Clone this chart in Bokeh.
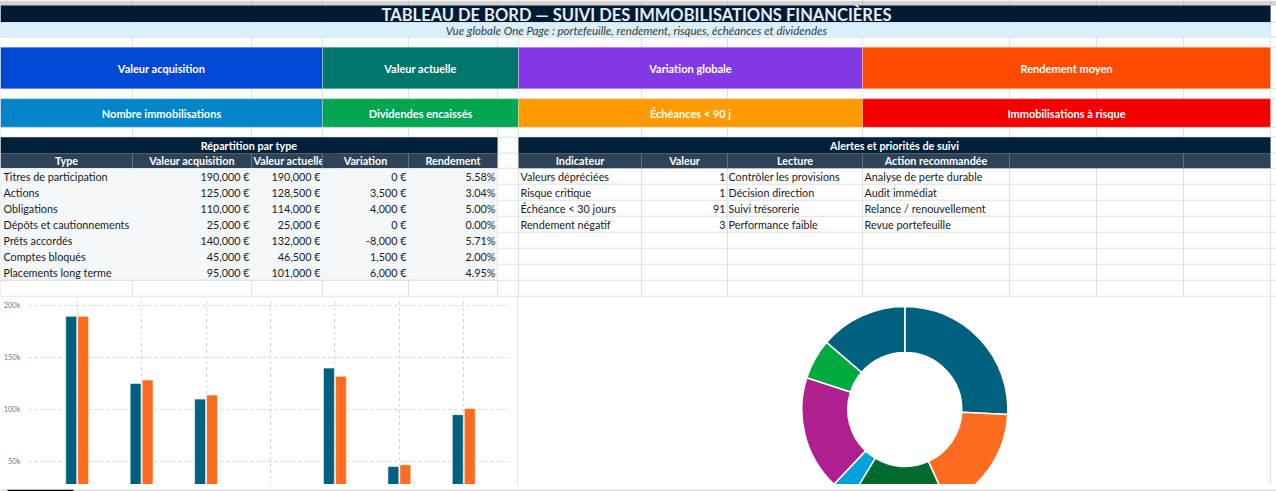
import numpy as np
from bokeh.plotting import figure
from bokeh.models import ColumnDataSource, Range1d, FixedTicker, NumeralTickFormatter, Span
from bokeh.layouts import column, row
from bokeh.core.properties import value
from bokeh.transform import dodge
from bokeh.embed import file_html
from bokeh.resources import INLINE

# ---- data -------------------------------------------------------------
TITLE = "TABLEAU DE BORD — SUIVI DES IMMOBILISATIONS FINANCIÈRES"
SUBTITLE = "Vue globale One Page : portefeuille, rendement, risques, échéances et dividendes"

kpi_row1 = ["Valeur acquisition", "Valeur actuelle", "Variation globale", "Rendement moyen"]
kpi_row2 = ["Nombre immobilisations", "Dividendes encaissés", "Échéances < 90 j", "Immobilisations à risque"]
kpi_colors1 = ["#0049d6", "#00766c", "#8338e6", "#ff4b00"]
kpi_colors2 = ["#0086c8", "#00a651", "#ff9a00", "#f50000"]

type_headers = ["Type", "Valeur acquisition", "Valeur actuelle", "Variation", "Rendement"]
types = ["Titres de participation", "Actions", "Obligations", "Dépôts et cautionnements",
         "Prêts accordés", "Comptes bloqués", "Placements long terme"]
valeur_acquisition = [190000, 125000, 110000, 25000, 140000, 45000, 95000]
valeur_actuelle = [190000, 128500, 114000, 25000, 132000, 46500, 101000]
variation = [0, 3500, 4000, 0, -8000, 1500, 6000]
rendement = [5.58, 3.04, 5.00, 0.00, 5.71, 2.00, 4.95]

alert_headers = ["Indicateur", "Valeur", "Lecture", "Action recommandée"]
alert_indicateurs = ["Valeurs dépréciées", "Risque critique", "Échéance < 30 jours", "Rendement négatif"]
alert_valeurs = [1, 1, 91, 3]
alert_lecture = ["Contrôler les provisions", "Décision direction", "Suivi trésorerie", "Performance faible"]
alert_actions = ["Analyse de perte durable", "Audit immédiat", "Relance / renouvellement", "Revue portefeuille"]

bar_ticks = [50000, 100000, 150000, 200000]
bar_colors = ["#00617f", "#ff6b1f"]
donut_colors = ["#00617f", "#ff6b1f", "#006b2d", "#00a3d9", "#b01f8e", "#00aa3c"]

# ---- sheet geometry (pixels) ------------------------------------------
W, H = 1276, 491
CHART_TOP, SHEET_BOTTOM = 297, 484
COLS = [0, 132, 251, 322, 408, 497, 518, 641, 727, 862, 1009, 1096, 1183, 1270]
ROWS = [5, 21.7, 36.7, 46.7, 88.3, 98.3, 126.7, 136.7, 152.7] + [167.7 + 16 * i for i in range(9)]
FONT = value("Lato")


def put_text(p, xs, ys, texts, size="10px", align="left", style="normal", color="#1a1a1a"):
    src = ColumnDataSource(dict(x=xs, y=ys, t=texts))
    p.text("x", "y", text="t", source=src, text_font=FONT, text_font_size=size,
           text_align=align, text_baseline="middle", text_font_style=style, text_color=color)


top = figure(width=W, height=CHART_TOP, x_range=Range1d(0, W), y_range=Range1d(CHART_TOP, 0),
             x_axis_location=None, y_axis_location=None, toolbar_location=None,
             output_backend="svg", min_border=0, outline_line_color=None)
top.grid.visible = False

# grid of the sheet
top.segment(COLS, [0] * len(COLS), COLS, [CHART_TOP] * len(COLS), line_color="#e0e0e0", line_width=1)
top.segment([0] * len(ROWS), ROWS, [W] * len(ROWS), ROWS, line_color="#e0e0e0", line_width=1)
top.quad(left=0, right=W, top=0, bottom=5, fill_color="#d4d4d4", line_color=None)
top.segment(COLS, [0] * len(COLS), COLS, [5] * len(COLS), line_color="#bcbcbc")

# title and subtitle bands
top.quad(left=0, right=1270, top=5, bottom=21.7, fill_color="#011b33", line_color=None)
top.quad(left=0, right=1270, top=21.7, bottom=36.7, fill_color="#d9f0fb", line_color=None)
put_text(top, [636], [14], [TITLE], size="16.5px", align="center", style="bold", color="#e6ecf2")
put_text(top, [636], [29.5], [SUBTITLE], size="11.5px", align="center", style="italic", color="#3a3a3a")

# KPI cards
k_left = [0, 322, 518, 862]
k_right = [322, 518, 862, 1270]
k_mid = [(a + b) / 2 for a, b in zip(k_left, k_right)]
top.quad(left=k_left, right=k_right, top=46.7, bottom=88.3, fill_color=kpi_colors1,
         line_color="white", line_alpha=0.5, line_width=0.6)
top.quad(left=k_left, right=k_right, top=98.3, bottom=126.7, fill_color=kpi_colors2,
         line_color="white", line_alpha=0.5, line_width=0.6)
put_text(top, k_mid, [68] * 4, kpi_row1, size="11px", align="center", style="bold", color="white")
put_text(top, k_mid, [113] * 4, kpi_row2, size="11px", align="center", style="bold", color="white")

# section headers
top.quad(left=[0, 518], right=[497, 1270], top=136.7, bottom=152.7, fill_color="#01203a", line_color=None)
top.quad(left=[0, 518], right=[497, 1270], top=152.7, bottom=167.7, fill_color="#2f4358", line_color=None)
seps = [132, 251, 322, 408, 641, 727, 862, 1009, 1183]
top.segment(seps, [152.7] * len(seps), seps, [167.7] * len(seps), line_color="#5f7185", line_width=1)
put_text(top, [248.5, 894], [145, 145], ["Répartition par type", "Alertes et priorités de suivi"],
         size="10.8px", align="center", style="bold", color="white")
put_text(top, [66, 191.5], [160.4] * 2, type_headers[:2], size="10.8px", align="center", style="bold", color="white")
put_text(top, [253], [160.4], type_headers[2:3], size="10.8px", align="left", style="bold", color="white")
top.quad(left=322.5, right=336, top=152.7, bottom=167.7, fill_color="#2f4358", line_color=None)
top.segment([322], [152.7], [322], [167.7], line_color="#5f7185", line_width=1)
put_text(top, [365, 452.5], [160.4] * 2, type_headers[3:], size="10.8px", align="center", style="bold", color="white")
put_text(top, [579.5, 684, 794.5, 935.5], [160.4] * 4, alert_headers, size="10.8px",
         align="center", style="bold", color="white")

# left table body
n = len(types)
top.quad(left=0, right=497, top=167.7, bottom=167.7 + 16 * n, fill_color="#f4f8fb", line_color=None)
top.segment([0], [167.7 + 16 * n], [497], [167.7 + 16 * n], line_color="#dcdcdc")
ys = [176 + 16 * i for i in range(n)]
euro = lambda v: f"{v:,.0f} €"
put_text(top, [3] * n, ys, types, size="10.8px")
put_text(top, [249] * n, ys, [euro(v) for v in valeur_acquisition], size="10.8px", align="right")
put_text(top, [320] * n, ys, [euro(v) for v in valeur_actuelle], size="10.8px", align="right")
put_text(top, [406] * n, ys, [euro(v) for v in variation], size="10.8px", align="right")
put_text(top, [495] * n, ys, [f"{v:.2f}%" for v in rendement], size="10.8px", align="right")

# right table body
m = len(alert_indicateurs)
ya = [176 + 16 * i for i in range(m)]
put_text(top, [520] * m, ya, alert_indicateurs, size="10.8px")
put_text(top, [725] * m, ya, [str(v) for v in alert_valeurs], size="10.8px", align="right")
put_text(top, [728] * m, ya, alert_lecture, size="10.8px")
put_text(top, [864] * m, ya, alert_actions, size="10.8px")

# ---- bar chart -------------------------------------------------------
mid_h = SHEET_BOTTOM - CHART_TOP
bar_w = 516
bars = figure(width=bar_w, height=mid_h, x_range=Range1d(-0.756, 6.71), y_range=Range1d(27500, 208200),
              x_axis_location=None, toolbar_location=None, output_backend="svg",
              min_border_left=28, min_border_right=7, min_border_top=0, min_border_bottom=0,
              outline_line_color=None)
src = ColumnDataSource(dict(x=list(range(n)), acq=valeur_acquisition, act=valeur_actuelle))
bars.vbar(x=dodge("x", -0.093), top="acq", width=0.17, source=src, fill_color=bar_colors[0],
          line_color="white", line_alpha=0.6)
bars.vbar(x=dodge("x", 0.093), top="act", width=0.17, source=src, fill_color=bar_colors[1],
          line_color="white", line_alpha=0.6)
ax = bars.yaxis[0]
ax.ticker = FixedTicker(ticks=bar_ticks)
ax.formatter = NumeralTickFormatter(format="0a")
ax.axis_line_color = None
ax.major_tick_line_color = None
ax.minor_tick_line_color = None
ax.major_label_standoff = 2
ax.major_label_text_font = "Lato"
ax.major_label_text_font_size = "7.5px"
ax.major_label_text_color = "#7a7a7a"
bars.ygrid.ticker = FixedTicker(ticks=bar_ticks)
bars.xgrid.ticker = FixedTicker(ticks=list(range(n)))
for g in (bars.xgrid, bars.ygrid):
    g.grid_line_color = "#d2d2d2"
    g.grid_line_dash = "3 3"

# ---- donut -----------------------------------------------------------
pie_w = W - bar_w
cx, cy = 904.3, 409
pie = figure(width=pie_w, height=mid_h, x_range=Range1d(bar_w - cx, W - cx),
             y_range=Range1d(cy - SHEET_BOTTOM, cy - CHART_TOP),
             x_axis_location=None, y_axis_location=None, toolbar_location=None,
             output_backend="svg", min_border=0, outline_line_color=None)
pie.grid.visible = False
vals = np.array(valeur_actuelle, dtype=float)
cum = np.cumsum(vals) / vals.sum()
prev = np.concatenate([[0.0], cum[:-1]])
wsrc = ColumnDataSource(dict(
    start=np.pi / 2 - 2 * np.pi * prev,
    end=np.pi / 2 - 2 * np.pi * cum,
    color=[donut_colors[i % len(donut_colors)] for i in range(n)],
    name=types))
pie.annular_wedge(x=0, y=0, inner_radius=57, outer_radius=103, inner_radius_units="screen",
                  outer_radius_units="screen", start_angle="start", end_angle="end",
                  direction="clock", fill_color="color", line_color="white", line_width=1.5,
                  source=wsrc)
pie.add_layout(Span(location=1270 - cx, dimension="height", line_color="#d9d9d9", line_width=1))
pie.add_layout(Span(location=bar_w + 1 - cx, dimension="height", line_color="#e4e4e4", line_width=1))

# ---- bottom strip ----------------------------------------------------
strip = figure(width=W, height=H - CHART_TOP - mid_h, x_range=Range1d(0, W), y_range=Range1d(0, 1),
               x_axis_location=None, y_axis_location=None, toolbar_location=None,
               output_backend="svg", min_border=0, outline_line_color=None,
               background_fill_color="#f0f0f0", border_fill_color="#f0f0f0")
strip.grid.visible = False
strip.segment([0], [0.92], [W], [0.92], line_color="#cfcfcf", line_width=1)
strip.segment([7], [0.85], [73], [0.85], line_color="black", line_width=2)

layout = column(top, row(bars, pie), strip)
open("out.html", "w").write(file_html(layout, INLINE))
